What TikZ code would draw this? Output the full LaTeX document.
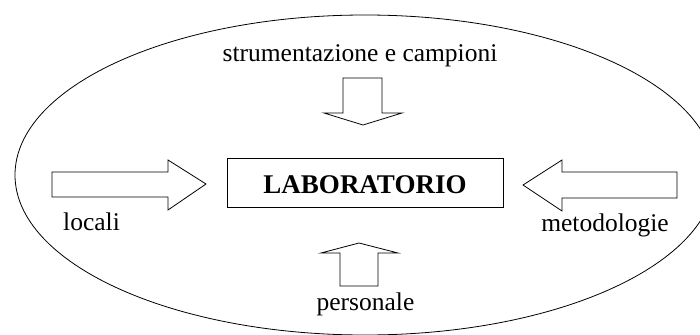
\documentclass[tikz,border=0pt]{standalone}
\usepackage{fontspec}
\setmainfont{Liberation Serif}
\begin{document}
\begin{tikzpicture}[x=1pt,y=-1pt,line width=0.8pt,
  lbl/.style={anchor=base,inner sep=0pt,font=\fontsize{25.5}{28}\selectfont},
  blockarrow/.style={draw=black,fill=white,line join=miter},
  labbox/.style={draw=black,line width=0.9pt}]
\useasboundingbox (0,0) rectangle (700,334);
\begin{scope}
\clip (0,0) rectangle (700,334);
\draw (365,175) ellipse [x radius=350, y radius=160];
\end{scope}
\draw[labbox] (227,158) rectangle (503,207);
\node[anchor=base,inner sep=0pt,font=\fontsize{27}{30}\selectfont\bfseries] (lab) at (365,193) {LABORATORIO};
\draw[blockarrow] (343,78) -- (382,78) -- (382,113) -- (402,113) -- (363,125) -- (324,113) -- (343,113) -- cycle;
\draw[blockarrow] (340,286) -- (378,286) -- (378,253) -- (398,253) -- (359,243) -- (321,253) -- (340,253) -- cycle;
\draw[blockarrow] (52,172) -- (168,172) -- (168,160) -- (206,184) -- (168,210) -- (168,197) -- (52,197) -- cycle;
\draw[blockarrow] (677,172) -- (562,172) -- (562,160) -- (523,185) -- (562,211) -- (562,198) -- (677,198) -- cycle;
\node[lbl] (strum) at (360,62) {strumentazione e campioni};
\node[lbl] (locali) at (91.5,230) {locali};
\node[lbl] (metod) at (605,231) {metodologie};
\node[lbl] (pers) at (365.5,310) {personale};
\end{tikzpicture}
\end{document}
